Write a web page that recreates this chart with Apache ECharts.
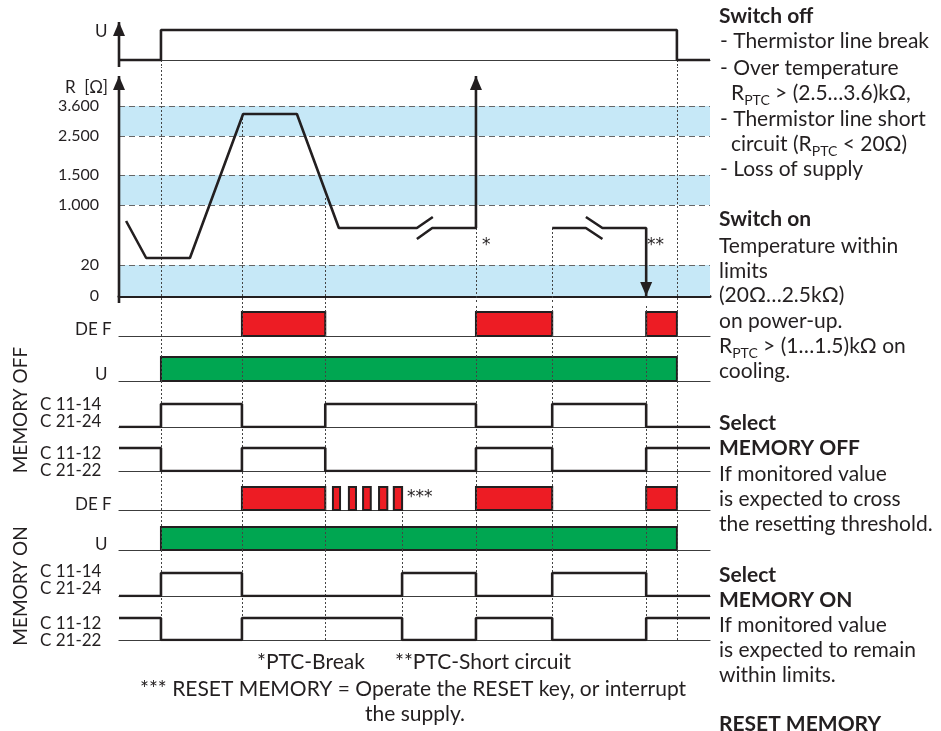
<!DOCTYPE html>
<html><head><meta charset="utf-8">
<script src="https://cdn.jsdelivr.net/npm/echarts/dist/echarts.min.js"></script>
<style>html,body{margin:0;padding:0;background:#fff}#c{width:941px;height:731px}</style>
</head><body><div id="c"></div><script>
// ================= DATA =================
// event times (time units along the diagram)
const tOn = 7.1, tHot = 20.8, tCool = 34.9, tReset = 47.9, tBreak = 60.4, tRepair = 73.3, tShort = 89.2, tOff = 94.4;
const timeMax = 100;

// supply U (0 = off, 1 = on)
const supplyT = [0, tOn, tOff, timeMax];
const supplyV = [0, 1, 0, 0];

// R [Ω] scale (display levels of the thresholds)
const rTickLabels = ['0', '20', '1.000', '1.500', '2.500', '3.600'];
const rTickLevels = [0, 3.1, 9.1, 12.1, 16.0, 19.0];
const rBandPairs = [[0, 3.1], [9.1, 12.1], [16.0, 19.0]];

// R curve pieces (time, level)
const rRiseT = [1.2, 4.6, 12.0, 21.0, 30.1, 37.2, 50.4, 53.1];
const rRiseV = [7.5, 3.8, 3.8, 18.2, 18.2, 6.8, 6.8, 7.9];
const rBreakT = [50.4, 53.0, 60.4, 60.4];
const rBreakV = [5.7, 6.8, 6.8, 22.0];
const rResumeT = [73.3, 79.0, 81.8];
const rResumeV = [6.8, 6.8, 5.7];
const rShortT = [79.0, 81.8, 89.2, 89.2];
const rShortV = [7.9, 6.8, 6.8, 0];
const rAxisV = [-0.7, 22.0];
const uAxisV = [-0.23, 1.27];
const rDropT = [tHot, tCool, tBreak, tRepair];
const rDropV = [18.2, 9.8, 6.8, 6.8];

// relay / LED states
const defOffBars = [[tHot, tCool], [tBreak, tRepair], [tShort, tOff]];
const uBars = [[tOn, tOff]];
const relayOffT = [0, tOn, tHot, tCool, tBreak, tRepair, tShort, timeMax];
const noOffV = [0, 1, 0, 1, 0, 1, 0, 0];
const ncOffV = [1, 0, 1, 0, 1, 0, 1, 1];
const resetPulses = [[36.2, 37.4], [38.9, 40.1], [41.3, 42.6], [44.0, 45.4], [46.5, 47.9]];
const defOnBars = [[tHot, tCool]].concat(resetPulses, [[tBreak, tRepair], [tShort, tOff]]);
const relayOnT = [0, tOn, tHot, tReset, tBreak, tRepair, tShort, timeMax];
const noOnV = [0, 1, 0, 1, 0, 1, 0, 0];
const ncOnV = [1, 0, 1, 0, 1, 0, 1, 1];

const eventsMain = [tOn, tHot, tCool, tBreak, tRepair, tShort, tOff];
const eventsMem = eventsMain.concat([tReset]);

// texts
const rowLabels = ['DE F', 'U', 'C 11-14\nC 21-24', 'C 11-12\nC 21-22'];
const notes = ['*PTC-Break', '**PTC-Short circuit', '*** RESET MEMORY = Operate the RESET key, or interrupt', 'the supply.'];

// ================= LAYOUT =================
const dark = '#231f20', red = '#ed1c24', green = '#00a651', blue = '#c6e8f7';
const FONT = 'Lato';
const L = 119, Rm = 231;
const rows = [
  {top: 20,  bottom: 67,  zero: 60,  unit: 30},
  {top: 67,  bottom: 304, zero: 296, unit: 10},
  {top: 304, bottom: 336, zero: 336, unit: 24},
  {top: 336, bottom: 381, zero: 381, unit: 24},
  {top: 381, bottom: 427, zero: 427, unit: 23},
  {top: 427, bottom: 471, zero: 471, unit: 23},
  {top: 471, bottom: 510, zero: 510, unit: 23},
  {top: 510, bottom: 550, zero: 550, unit: 23},
  {top: 550, bottom: 596, zero: 596, unit: 23},
  {top: 596, bottom: 640, zero: 640, unit: 22}
];
const grids = [], xAxes = [], yAxes = [];
rows.forEach((r, i) => {
  grids.push({left: L, right: Rm, top: r.top, height: r.bottom - r.top});
  xAxes.push({gridIndex: i, type: 'value', min: 0, max: timeMax,
    axisLine: {show: true, onZero: true, lineStyle: {color: i === 1 ? dark : '#3c3c3c', width: i === 1 ? 3 : 1.2}},
    axisTick: {show: false}, axisLabel: {show: false}, splitLine: {show: false}});
  yAxes.push({gridIndex: i, type: 'value', min: -(r.bottom - r.zero) / r.unit, max: (r.zero - r.top) / r.unit, show: false,
    splitLine: {show: false}});
});

const series = [];
const zip = (ts, vs) => ts.map((t, k) => [t, vs[k]]);

function stepLine(gi, ts, vs) {
  series.push({type: 'line', xAxisIndex: gi, yAxisIndex: gi, step: 'end', data: zip(ts, vs), symbol: 'none',
    lineStyle: {color: dark, width: 2.6}, z: 5, silent: true});
}
function polyLine(gi, ts, vs, arrow) {
  const data = zip(ts, vs).map((p, k) => {
    if (arrow && k === ts.length - 1) {
      return {value: p, symbol: arrow === 'up' ? 'path://M5,0L10,13L0,13Z' : 'path://M0,0L10,0L5,13Z',
        symbolSize: [12, 14], symbolOffset: [0, arrow === 'up' ? '50%' : '-50%']};
    }
    return {value: p, symbol: 'none'};
  });
  series.push({type: 'line', xAxisIndex: gi, yAxisIndex: gi, data, showSymbol: true, showAllSymbol: true,
    itemStyle: {color: dark, borderWidth: 0}, lineStyle: {color: dark, width: 2.6}, z: 5, silent: true});
}
function bars(gi, list, color) {
  series.push({type: 'custom', xAxisIndex: gi, yAxisIndex: gi, z: 2, silent: true,
    data: list.map(b => [b[0], b[1]]),
    encode: {x: [0, 1]},
    renderItem: (params, api) => {
      const a = api.coord([api.value(0), 0]);
      const b = api.coord([api.value(1), 1]);
      return {type: 'rect', shape: {x: a[0], y: b[1], width: b[0] - a[0], height: a[1] - b[1]},
        style: {fill: color, stroke: dark, lineWidth: 2}};
    }});
}
const dotStyle = {color: '#444', width: 1, type: [2, 2]};
function dotsFull(gi, events) {
  series.push({type: 'line', xAxisIndex: gi, yAxisIndex: gi, data: [], z: 3, silent: true,
    markLine: {silent: true, symbol: 'none', label: {show: false}, lineStyle: dotStyle, animation: false,
      data: events.map(t => ({xAxis: t}))}});
}
function dotsSeg(gi, ts, from, to) {
  series.push({type: 'line', xAxisIndex: gi, yAxisIndex: gi, data: [], z: 3, silent: true,
    markLine: {silent: true, symbol: 'none', label: {show: false}, lineStyle: dotStyle, animation: false,
      data: ts.map((t, k) => [{coord: [t, Array.isArray(from) ? from[k] : from]}, {coord: [t, to]}])}});
}

// --- U top row (grid 0)
stepLine(0, supplyT, supplyV);
polyLine(0, [0, 0], uAxisV, 'up');
dotsSeg(0, [tOn, tOff], 0, yAxes[0].min);

// --- R row (grid 1)
series.push({type: 'line', xAxisIndex: 1, yAxisIndex: 1, data: [], z: 1, silent: true,
  markArea: {silent: true, itemStyle: {color: blue}, data: rBandPairs.map(p => [{yAxis: p[0]}, {yAxis: p[1]}])},
  markLine: {silent: true, symbol: 'none', animation: false,
    lineStyle: {color: '#666', width: 1.2, type: [6, 4]},
    label: {show: true, position: 'start', distance: 20, color: dark, fontSize: 16, fontFamily: FONT},
    data: rTickLevels.map((v, k) => ({yAxis: v, label: {formatter: rTickLabels[k]},
      lineStyle: k === 0 ? {color: 'rgba(0,0,0,0)'} : {}}))}});
dotsFull(1, [tOn, tOff]);
dotsSeg(1, rDropT, rDropV, yAxes[1].min);
polyLine(1, rRiseT, rRiseV);
polyLine(1, rBreakT, rBreakV, 'up');
polyLine(1, rResumeT, rResumeV);
polyLine(1, rShortT, rShortV, 'down');
polyLine(1, [0, 0], rAxisV, 'up');

// --- MEMORY OFF rows
bars(2, defOffBars, red);
bars(3, uBars, green);
stepLine(4, relayOffT, noOffV);
stepLine(5, relayOffT, ncOffV);
// --- MEMORY ON rows
bars(6, defOnBars, red);
bars(7, uBars, green);
stepLine(8, relayOnT, noOnV);
stepLine(9, relayOnT, ncOnV);
[2, 3, 4, 5, 6].forEach(g => dotsFull(g, eventsMain));
[7, 8, 9].forEach(g => dotsFull(g, eventsMem));

// ================= TEXT =================
function txt(x, y, text, o) {
  o = o || {};
  const size = o.size || 21;
  const fam = o.family || FONT;
  return {type: 'text', x, y, rotation: o.rot || 0, silent: true, z: 10,
    style: {text, fill: dark, font: (o.bold ? 'bold ' : '') + size + 'px ' + fam,
      fontSize: size, fontFamily: fam, fontWeight: o.bold ? 'bold' : 'normal',
      textAlign: o.align || 'left', align: o.align || 'left', textVerticalAlign: 'middle', verticalAlign: 'middle',
      lineHeight: o.lh, rich: o.rich}};
}
const richSub = {
  t: {fontSize: 21, fontFamily: FONT, fill: dark, color: dark},
  s: {fontSize: 14, fontFamily: FONT, fill: dark, color: dark, padding: [14, 0, 0, 0]}
};
const g = [];
// left labels
g.push(txt(95, 32, 'U', {size: 17}));
g.push(txt(65, 88, 'R  [Ω]', {size: 17}));
g.push(txt(75, 330, rowLabels[0], {size: 17}));
g.push(txt(95, 375, rowLabels[1], {size: 17}));
g.push(txt(40, 413, rowLabels[2], {size: 17, lh: 17}));
g.push(txt(40, 462, rowLabels[3], {size: 17, lh: 17}));
g.push(txt(75, 505, rowLabels[0], {size: 17}));
g.push(txt(95, 545, rowLabels[1], {size: 17}));
g.push(txt(40, 580, rowLabels[2], {size: 17, lh: 17}));
g.push(txt(40, 632, rowLabels[3], {size: 17, lh: 17}));
g.push(txt(21, 410, 'MEMORY OFF', {size: 19, rot: Math.PI / 2, align: 'center'}));
g.push(txt(21, 586, 'MEMORY ON', {size: 19, rot: Math.PI / 2, align: 'center'}));
// in-plot marks
g.push(txt(482, 246, '*', {size: 17, family: 'DejaVu Sans'}));
g.push(txt(647, 246, '**', {size: 17, family: 'DejaVu Sans'}));
g.push(txt(407, 498, '***', {size: 17, family: 'DejaVu Sans'}));
// right panel
const rp = [
  [719, 16, 'Switch off', true], [720, 41, '- Thermistor line break'], [720, 68, '- Over temperature'],
  [731, 93, '{t|R}{s|PTC}{t| > (2.5…3.6)kΩ,}', false, true], [720, 119, '- Thermistor line short'],
  [731, 144, '{t|circuit (R}{s|PTC}{t| < 20Ω)}', false, true], [720, 169, '- Loss of supply'],
  [719, 219, 'Switch on', true], [719, 246, 'Temperature within'], [719, 271, 'limits'],
  [719, 295, '(20Ω…2.5kΩ)'], [719, 321, 'on power-up.'], [719, 346, '{t|R}{s|PTC}{t| > (1…1.5)kΩ on}', false, true],
  [719, 371, 'cooling.'], [719, 423, 'Select', true], [719, 448, 'MEMORY OFF', true],
  [719, 474, 'If monitored value'], [719, 499, 'is expected to cross'], [719, 524, 'the resetting threshold.'],
  [719, 575, 'Select', true], [719, 600, 'MEMORY ON', true], [719, 625, 'If monitored value'],
  [719, 650, 'is expected to remain'], [719, 675, 'within limits.'], [719, 724, 'RESET MEMORY', true]
];
rp.forEach(r => g.push(txt(r[0], r[1], r[2], {bold: r[3], rich: r[4] ? richSub : undefined})));
// footnotes
g.push(txt(257, 662, notes[0]));
g.push(txt(395, 662, notes[1]));
g.push(txt(140, 689, notes[2]));
g.push(txt(365, 714, notes[3]));

const chart = echarts.init(document.getElementById('c'));
chart.setOption({
  animation: false,
  grid: grids, xAxis: xAxes, yAxis: yAxes, series,
  graphic: g
});
</script></body></html>
